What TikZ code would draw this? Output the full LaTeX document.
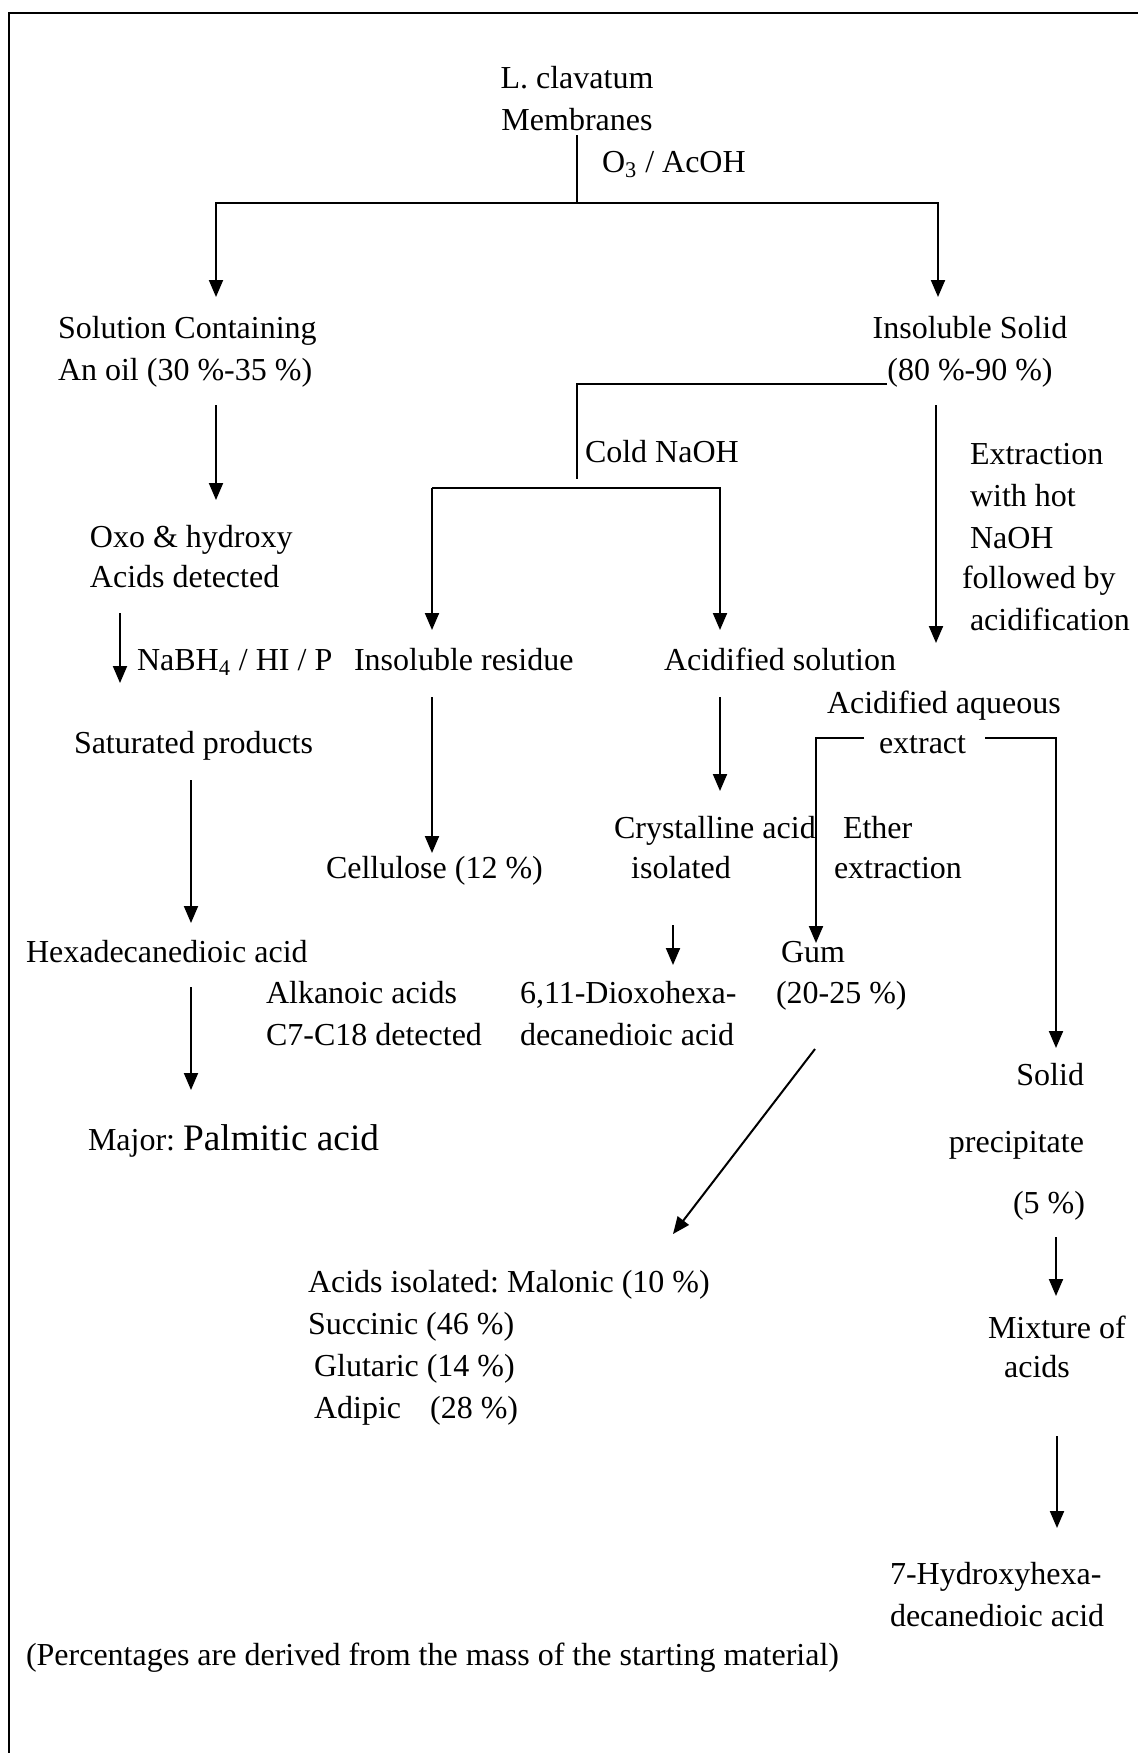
\documentclass[tikz,border=0pt]{standalone}
\usepackage{fontspec}
\setmainfont{Liberation Serif}
\usetikzlibrary{arrows.meta}

\begin{document}
\begin{tikzpicture}[
    x=0.5pt, y=-0.5pt,
    font=\fontsize{16}{21}\selectfont\frenchspacing,
    line width=1pt,
    lbl/.style  = {inner sep=0pt, align=left},
    lblc/.style = {inner sep=0pt, align=center},
    ar/.style   = {-{Triangle[length=8.5pt,width=7pt]}},
]
\useasboundingbox (0,0) rectangle (1138,1753);

% ---------------- frame (open at right and bottom) ----------------
\coordinate (fbl) at (9,1753);
\coordinate (ftl) at (9,13);
\coordinate (ftr) at (1138,13);
\draw[line width=1.1pt] (fbl) -- (ftl) -- (ftr);

% note: multi-line nodes are placed by the baseline of their last line

% ---------------- starting material ----------------
\node[lblc, anchor=base] (start) at (577,130) {L. clavatum\\Membranes};
\node[lbl, anchor=base west] (ozone) at (601,172) {O\textsubscript{3} / AcOH};

% ---------------- first split ----------------
\node[lbl, anchor=base west] (sol) at (57,380) {Solution Containing\\An oil (30 \%-35 \%)};
\node[lblc, anchor=base] (insol) at (970,380) {Insoluble Solid\\(80 \%-90 \%)};

\coordinate (oz0) at (577,135);
\coordinate (oz1) at (577,203);
\coordinate (ozL) at (216,297);
\coordinate (ozR) at (938,297);
\draw (oz0) -- (oz1);
\draw[ar] (oz1) -| (ozL);
\draw[ar] (oz1) -| (ozR);

% ---------------- oil branch ----------------
\node[lbl, anchor=base west] (oxo) at (89,587) {Oxo \& hydroxy\\[-1pt]Acids detected};
\node[lbl, anchor=base west] (nabh) at (136,670) {NaBH\textsubscript{4} / HI / P};
\node[lbl, anchor=base west] (sat) at (73,753) {Saturated products};
\node[lbl, anchor=base west] (hexa) at (25,962) {Hexadecanedioic acid};
\node[lbl, anchor=base west] (alk) at (265,1045) {Alkanoic acids\\C7-C18 detected};
\node[lbl, anchor=base west] (palm) at (87,1150)
    {Major: {\fontsize{18.67}{21}\selectfont Palmitic acid}};

\coordinate (o1a) at (216,405);  \coordinate (o1b) at (216,500);
\coordinate (o2a) at (120,613);  \coordinate (o2b) at (120,683);
\coordinate (o3a) at (191,780);  \coordinate (o3b) at (191,923);
\coordinate (o4a) at (191,987);  \coordinate (o4b) at (191,1090);
\draw[ar] (o1a) -- (o1b);
\draw[ar] (o2a) -- (o2b);
\draw[ar] (o3a) -- (o3b);
\draw[ar] (o4a) -- (o4b);

% ---------------- cold NaOH ----------------
\node[lbl, anchor=base west] (cold) at (584,462) {Cold NaOH};
\node[lbl, anchor=base west] (resid) at (353,670) {Insoluble residue};
\node[lbl, anchor=base west] (acsol) at (663,670) {Acidified solution};
\node[lbl, anchor=base west] (cell) at (325,878) {Cellulose (12 \%)};
\node[lbl, anchor=base west] (cryst) at (613,838) {Crystalline acid};
\node[lblc, anchor=base] (isol) at (681,878) {isolated};
\node[lbl, anchor=base west] (diox) at (519,1045) {6,11-Dioxohexa-\\decanedioic acid};

\coordinate (c0) at (887,384);
\coordinate (c1) at (577,479);
\coordinate (cL) at (432,488);
\coordinate (cR) at (720,488);
\coordinate (cLt) at (432,630);
\coordinate (cRt) at (720,630);
\draw (c0) -| (c1);
\draw[ar] (cL) -- (cLt);
\draw[ar] (cL) -- (cR) -- (cRt);

\coordinate (r1a) at (432,697);  \coordinate (r1b) at (432,853);
\coordinate (s1a) at (720,697);  \coordinate (s1b) at (720,791);
\coordinate (s2a) at (673,925);  \coordinate (s2b) at (673,965);
\draw[ar] (r1a) -- (r1b);
\draw[ar] (s1a) -- (s1b);
\draw[ar] (s2a) -- (s2b);

% ---------------- hot NaOH ----------------
\node[lbl, anchor=base west] (hot) at (969,630)
    {Extraction\\with hot\\NaOH\\[-1pt]\hspace{-4pt}followed by\\acidification};
\node[lbl, anchor=base west] (aqx) at (826,713) {Acidified aqueous};
\node[lbl, anchor=base west] (extr) at (878,753) {extract};
\node[lbl, anchor=base west] (ether) at (842,838) {Ether};
\node[lbl, anchor=base west] (ethx) at (833,878) {extraction};
\node[lbl, anchor=base west] (gum) at (780,1003) {Gum\\[-0.5pt]\hspace{-2.5pt}(20-25 \%)};

\coordinate (h1a) at (936,405);  \coordinate (h1b) at (936,643);
\draw[ar] (h1a) -- (h1b);

\coordinate (xL0) at (864,738);  \coordinate (xLt) at (816,943);
\coordinate (xR0) at (985,738);  \coordinate (xRt) at (1056,1048);
\draw[ar] (xL0) -| (xLt);
\draw[ar] (xR0) -| (xRt);

% ---------------- gum -> small acids ----------------
\node[lbl, anchor=base west] (dic) at (307,1418)
    {Acids isolated: Malonic (10 \%)\\
     Succinic (46 \%)\\
     \hspace{3pt}Glutaric (14 \%)\\
     \hspace{3pt}Adipic\hspace{10.5pt} (28 \%)};
\coordinate (g1a) at (815,1049);  \coordinate (g1b) at (673,1234);
\draw[ar] (g1a) -- (g1b);

% ---------------- solid precipitate ----------------
\node[lbl, anchor=base east] (solid) at (1085,1085) {Solid};
\node[lbl, anchor=base east] (prec) at (1085,1152) {precipitate};
\node[lbl, anchor=base east] (five) at (1086,1213) {(5 \%)};
\node[lbl, anchor=base west] (mix) at (987,1338) {Mixture of};
\node[lblc, anchor=base] (mixa) at (1037,1377) {acids};
\node[lbl, anchor=base west] (hydr) at (889,1626) {7-Hydroxyhexa-\\decanedioic acid};

\coordinate (p1a) at (1056,1237);  \coordinate (p1b) at (1056,1296);
\coordinate (p2a) at (1057,1436);  \coordinate (p2b) at (1057,1528);
\draw[ar] (p1a) -- (p1b);
\draw[ar] (p2a) -- (p2b);

% footnote
\node[lbl, anchor=base west] (note) at (25,1665)
    {(Percentages are derived from the mass of the starting material)};

\end{tikzpicture}
\end{document}
